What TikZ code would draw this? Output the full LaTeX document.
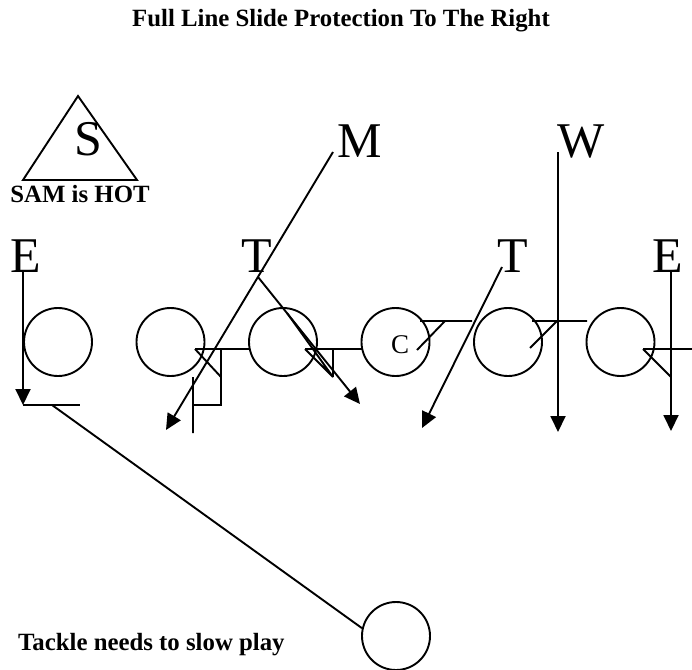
\documentclass[tikz,border=0pt]{standalone}
\usepackage{fontspec}
\setmainfont{Liberation Serif}
\usetikzlibrary{arrows.meta}

\tikzset{
  player/.style={draw,circle,minimum size=68pt,inner sep=0pt,line width=1.9pt},
  defender/.style={font=\fontsize{50}{50}\selectfont,inner sep=0pt,anchor=base},
  note/.style={font=\bfseries\fontsize{24.8}{26}\selectfont,inner sep=0pt,anchor=base},
  rush/.style={line width=1.9pt,-{Triangle[length=16pt,width=15pt]}},
  blk/.style={line width=1.9pt},
}

\begin{document}
\begin{tikzpicture}[x=1pt,y=-1pt]
\useasboundingbox (0,0) rectangle (692,669);

\node[note] (title) at (341,27) {Full Line Slide Protection To The Right};

\draw[blk] (78,96) -- (23,180) -- (137,180) -- cycle;
\node[defender] (S) at (88,155) {S};
\node[note] (hot) at (80,202) {SAM is HOT};

\node[defender] (M) at (360,157) {M};
\node[defender] (W) at (581,157) {W};
\node[defender] (E1) at (26,272) {E};
\node[defender] (T1) at (257,272) {T};
\node[defender] (T2) at (513,272) {T};
\node[defender] (E2) at (668,272) {E};

\foreach \i/\x in {1/58,2/170.5,3/283,4/395.5,5/508,6/620.5}
  \node[player] (o\i) at (\x,342) {};
\node[font=\fontsize{27}{27}\selectfont,inner sep=0pt,anchor=base] (c) at (400,353) {C};

\node[player] (tackle) at (396,636) {};
\node[note,anchor=base west] (slow) at (18,650) {Tackle needs to slow play};

\coordinate (m0) at (333,152);
\coordinate (m1) at (166,430);
\coordinate (w0) at (558,152);
\coordinate (w1) at (558,432);
\coordinate (e0) at (23,272);
\coordinate (e1) at (23,405);
\coordinate (k0) at (52,405);
\coordinate (t0) at (258,277);
\coordinate (t1) at (360,404);
\coordinate (u0) at (502,267);
\coordinate (u1) at (422,428);
\coordinate (f0) at (671,272);
\coordinate (f1) at (671,431);

\draw[rush] (m0) -- (m1);
\draw[rush] (w0) -- (w1);
\draw[rush] (e0) -- (e1);
\draw[blk] (e1) -- ++(57,0);
\draw[blk] (k0) -- (tackle.167);
\draw[rush] (t0) -- (t1);
\draw[rush] (u0) -- (u1);
\draw[rush] (f0) -- (f1);

\draw[blk] (195,349) -- (250,349) (221,349) -- (221,405) -- (193,405)
  (195,349) -- (221,377) (193,377) -- (193,433);
\draw[blk] (305,349) -- (362,349) (333,349) -- (333,377)
  (305,349) -- (333,377) (287,313) -- (333,377);
\draw[blk] (420,321) -- (472,321) (445,321) -- (417,350);
\draw[blk] (532,321) -- (587,321) (557,321) -- (530,348);
\draw[blk] (643,349) -- (692,349) (643,349) -- (671,377);
\end{tikzpicture}
\end{document}
